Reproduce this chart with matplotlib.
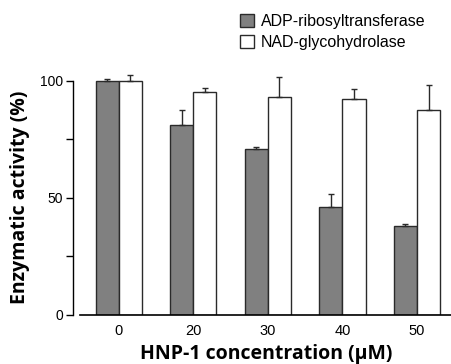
import matplotlib
matplotlib.use('Agg')
from matplotlib import pyplot as plt
from matplotlib.patches import Patch
import numpy as np

concentrations = ['0', '20', '30', '40', '50']
adp_ribosyl = [100, 81, 71, 46, 38]
adp_ribosyl_err = [0.6, 6.4, 0.6, 5.4, 0.6]
nad_glyco = [100, 95.2, 93, 92.3, 87.3]
nad_glyco_err = [2.5, 1.6, 8.7, 4.0, 10.9]

plt.rcParams['font.family'] = ['Liberation Sans', 'DejaVu Sans']

fig = plt.figure(figsize=(4.52, 3.64), dpi=100)
ax = fig.add_axes([80/452, 1 - 314.7/364, 372/452, (314.7 - 70)/364])

x = np.arange(len(concentrations))
w = 0.31
ax.bar(x - w/2, adp_ribosyl, w, color='#808080', edgecolor='#2a2a2a', linewidth=1.0,
       yerr=[np.zeros(5), adp_ribosyl_err], error_kw=dict(ecolor='#2a2a2a', elinewidth=1.0, capsize=2.5, capthick=1.0))
ax.bar(x + w/2, nad_glyco, w, color='white', edgecolor='#2a2a2a', linewidth=1.0,
       yerr=[np.zeros(5), nad_glyco_err], error_kw=dict(ecolor='#2a2a2a', elinewidth=1.0, capsize=2.5, capthick=1.0))

ytop = (314.7 - 70)/2.34
ax.set_xlim(-0.52, 4.47)
ax.set_ylim(0, ytop)
ax.set_xticks(x)
ax.set_xticklabels(concentrations, fontsize=10.5)
ax.tick_params(axis='x', length=0, pad=7)
ax.set_yticks([0, 25, 50, 75, 100])
ax.set_yticklabels(['0', '', '50', '', '100'], fontsize=10.5)
ax.tick_params(axis='y', length=5, width=1.0, pad=2)

for s in ['top', 'right']:
    ax.spines[s].set_visible(False)
ax.spines['left'].set_position(('outward', 5))
ax.spines['left'].set_bounds(0, 100)
ax.spines['left'].set_linewidth(1.0)
ax.spines['bottom'].set_linewidth(1.2)

ax.set_xlabel('HNP-1 concentration (\u03bcM)', fontsize=14, fontweight='bold', family='Open Sans', labelpad=4)
ax.set_ylabel('Enzymatic activity (%)', fontsize=14, fontweight='bold', family='Open Sans')
ax.yaxis.set_label_coords(-0.134, 50/ytop)

handles = [Patch(facecolor='#808080', edgecolor='#2a2a2a', linewidth=1.0),
           Patch(facecolor='white', edgecolor='#2a2a2a', linewidth=1.0)]
fig.legend(handles, ['ADP-ribosyltransferase', 'NAD-glycohydrolase'], loc='upper left',
           bbox_to_anchor=(226/452, 1 - 0/364), frameon=False, fontsize=11.5,
           handlelength=0.85, handleheight=0.85, handletextpad=0.45, labelspacing=0.35)

fig.savefig('out.png', dpi=100)
plt.close(fig)
